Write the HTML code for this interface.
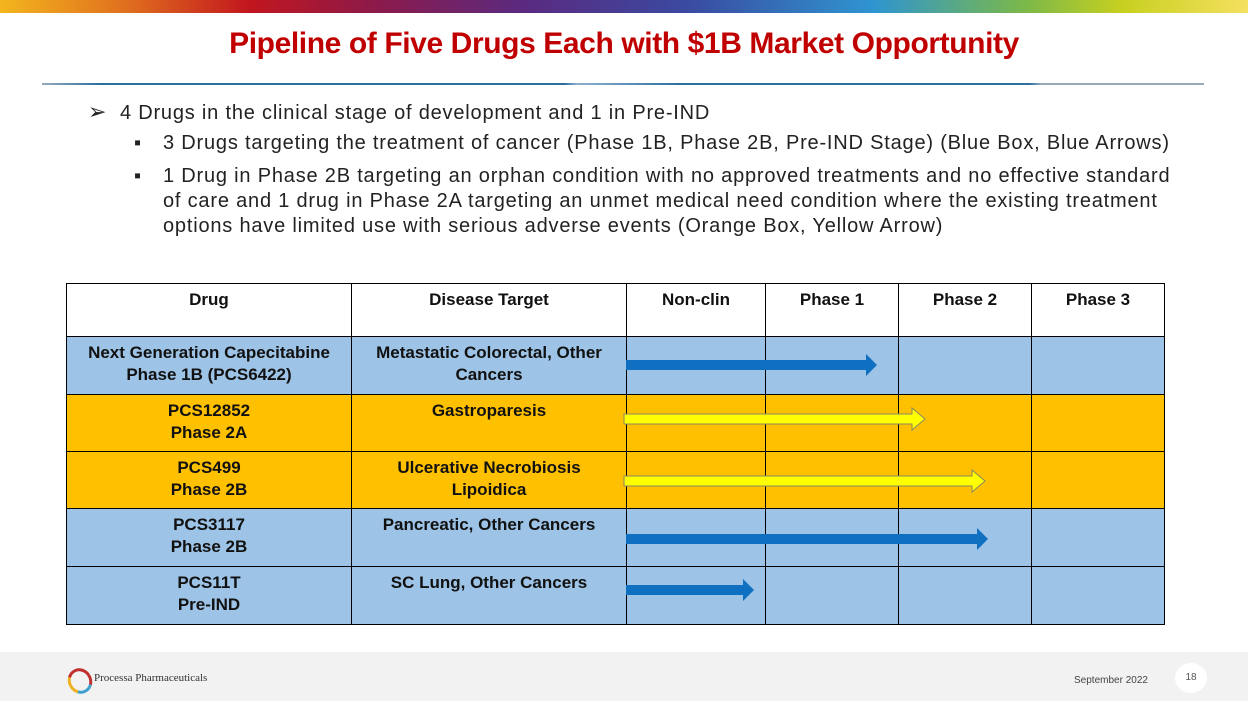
<!DOCTYPE html>
<html><head><meta charset="utf-8"><style>
body{margin:0;width:1248px;height:701px;position:relative;background:#fff;font-family:"Liberation Sans",Arial,sans-serif;overflow:hidden}
.bar{position:absolute;left:0;top:0;width:1248px;height:13px;background:linear-gradient(90deg,#f3b61e 0%,#e0701e 10%,#c2161e 20%,#8c1a4a 30%,#5a2a80 42%,#3a4aa0 55%,#2f95d0 70%,#7ab84a 82%,#c8d020 90%,#f5e060 100%)}
h1{position:absolute;top:27px;left:0;width:1248px;text-align:center;margin:0;font-size:30px;color:#c00000;font-weight:bold;letter-spacing:-0.4px}
.rule{position:absolute;top:83px;left:42px;width:1162px;height:2px;background:linear-gradient(90deg,#9ab 0%,#2a6fa0 5%,#2a6fa0 45%,#8fb0d0 46%,#2a6fa0 55%,#2a6fa0 85%,#9ab 86%)}
.t{position:absolute;font-size:20px;color:#222;line-height:25px;letter-spacing:0.8px}
table{position:absolute;left:66px;top:283px;border-collapse:collapse;font-weight:bold;font-size:17px;color:#111}
td{border:1px solid #000;text-align:center;vertical-align:top;padding:5px 4px 0;line-height:22px;box-sizing:border-box}
.b td{background:#9dc3e6}.o td{background:#ffc000}
.foot{position:absolute;left:0;top:652px;width:1248px;height:49px;background:#f2f2f2}
</style></head><body>
<div class="bar"></div>
<h1>Pipeline of Five Drugs Each with $1B Market Opportunity</h1>
<div class="rule"></div>
<div class="t" style="left:88px;top:99px"><span style="font-size:22px">➢</span>&nbsp; 4 Drugs in the clinical stage of development and 1 in Pre-IND</div>
<div class="t" style="left:134px;top:131px">▪</div>
<div class="t" style="left:163px;top:131px;white-space:nowrap">3 Drugs targeting the treatment of cancer (Phase 1B, Phase 2B, Pre-IND Stage) (Blue Box, Blue Arrows)</div>
<div class="t" style="left:134px;top:164px">▪</div>
<div class="t" style="left:163px;top:164px;width:1045px;white-space:nowrap">1 Drug in Phase 2B targeting an orphan condition with no approved treatments and no effective standard<br>of care and 1 drug in Phase 2A targeting an unmet medical need condition where the existing treatment<br>options have limited use with serious adverse events (Orange Box, Yellow Arrow)</div>
<table>
<tr style="height:53px"><td style="width:285px">Drug</td><td style="width:275px">Disease Target</td><td style="width:139px">Non-clin</td><td style="width:133px">Phase 1</td><td style="width:133px">Phase 2</td><td style="width:133px">Phase 3</td></tr>
<tr class="b" style="height:58px"><td>Next Generation Capecitabine<br>Phase 1B (PCS6422)</td><td>Metastatic Colorectal, Other<br>Cancers</td><td></td><td></td><td></td><td></td></tr>
<tr class="o" style="height:57px"><td>PCS12852<br>Phase 2A</td><td>Gastroparesis</td><td></td><td></td><td></td><td></td></tr>
<tr class="o" style="height:57px"><td>PCS499<br>Phase 2B</td><td>Ulcerative Necrobiosis<br>Lipoidica</td><td></td><td></td><td></td><td></td></tr>
<tr class="b" style="height:58px"><td>PCS3117<br>Phase 2B</td><td>Pancreatic, Other Cancers</td><td></td><td></td><td></td><td></td></tr>
<tr class="b" style="height:58px"><td>PCS11T<br>Pre-IND</td><td>SC Lung, Other Cancers</td><td></td><td></td><td></td><td></td></tr>
</table>
<svg style="position:absolute;left:0;top:0" width="1248" height="701">
<polygon points="626,360 866,360 866,354 877,365 866,376 866,370 626,370" fill="#0f6fc0"/>
<polygon points="624,414 912,414 912,408 925,419 912,430 912,424 624,424" fill="#ffff00" stroke="#8a8a60" stroke-width="1"/>
<polygon points="624,476 972,476 972,470 985,481 972,492 972,486 624,486" fill="#ffff00" stroke="#8a8a60" stroke-width="1"/>
<polygon points="626,534 977,534 977,528 988,539 977,550 977,544 626,544" fill="#0f6fc0"/>
<polygon points="626,585 743,585 743,579 754,590 743,601 743,595 626,595" fill="#0f6fc0"/>
</svg>
<div class="foot">
<div style="position:absolute;left:68px;top:16px;width:18px;height:20px;border-radius:50%;border:3px solid #c03030;border-left-color:#f0b020;border-bottom-color:#40a0d0;transform:rotate(-30deg)"></div>
<div style="position:absolute;left:94px;top:20px;font-family:'Liberation Serif',serif;font-size:11px;color:#333">Processa Pharmaceuticals</div>
<div style="position:absolute;left:1074px;top:23px;font-size:10px;color:#444">September 2022</div>
<div style="position:absolute;left:1175px;top:11px;width:32px;height:30px;border-radius:50%;background:#fff;text-align:center;line-height:30px;font-size:10px;color:#555">18</div>
</div>
</body></html>
